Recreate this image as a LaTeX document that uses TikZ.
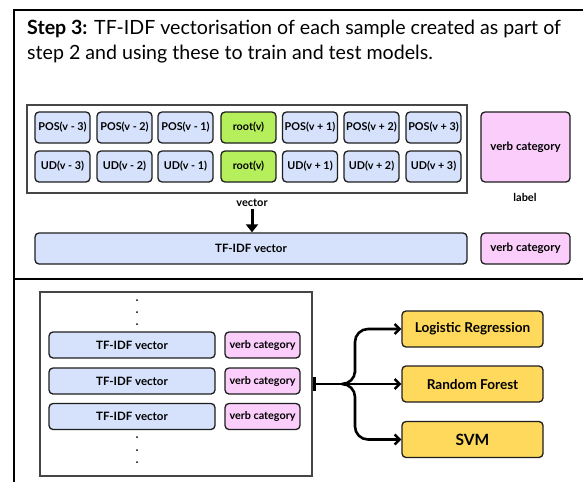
\documentclass[tikz,border=0pt]{standalone}
\usepackage{fontspec}
\setmainfont{Lato}
\usetikzlibrary{arrows.meta}
\definecolor{bluef}{RGB}{214,226,252}
\definecolor{greenf}{RGB}{181,240,92}
\definecolor{pinkf}{RGB}{250,205,250}
\definecolor{yellowf}{RGB}{255,217,92}
\definecolor{edge}{RGB}{30,30,30}
\definecolor{cont}{RGB}{70,70,70}
\tikzset{
  cell/.style={draw=edge, line width=1.3pt, rounded corners=4pt, align=center, inner sep=0pt, font=\bfseries\fontsize{10.8}{12}\selectfont},
  bcell/.style={cell, fill=bluef, minimum width=55pt, minimum height=31pt},
  gcell/.style={cell, fill=greenf, minimum width=55pt, minimum height=31pt},
  pcell/.style={cell, fill=pinkf},
  ycell/.style={cell, fill=yellowf, minimum width=141pt, minimum height=36pt, font=\bfseries\fontsize{13.6}{15}\selectfont},
  container/.style={draw=cont, line width=1.2pt},
  frameline/.style={draw=black, line width=1.6pt},
  plain/.style={font=\bfseries\fontsize{11}{12}\selectfont, inner sep=0pt},
  dotn/.style={circle, fill=black, inner sep=0pt, minimum size=2pt},
  flow/.style={line width=2.6pt, rounded corners=13pt, -{Straight Barb[length=5pt,width=10pt,line width=2.4pt]}}
}
\begin{document}
\begin{tikzpicture}[x=1pt,y=-1pt]
\useasboundingbox (0,0) rectangle (583,482);
\fill[white] (0,0) rectangle (583,482);
% outer frame
\draw[frameline] (14,482) -- (14,10) -- (583,10);
\draw[frameline] (14,279) -- (583,279);
% title
\node[anchor=base west, inner sep=0pt, font=\fontsize{19.6}{25}\selectfont] (t1) at (27,34) {\textbf{Step 3:} TF-IDF vectorisation of each sample created as part of};
\node[anchor=base west, inner sep=0pt, font=\fontsize{19.6}{25}\selectfont] (t2) at (27,59) {step 2 and using these to train and test models.};
% top container
\draw[container] (27,105) rectangle (467,193);
\node[bcell] (p1) at (62.5,127.5) {POS(v - 3)};
\node[bcell] (p2) at (124.5,127.5) {POS(v - 2)};
\node[bcell] (p3) at (185.5,127.5) {POS(v - 1)};
\node[gcell] (p4) at (248.5,127.5) {root(v)};
\node[bcell] (p5) at (310,127.5) {POS(v + 1)};
\node[bcell] (p6) at (371.5,127.5) {POS(v + 2)};
\node[bcell] (p7) at (433.5,127.5) {POS(v + 3)};
\node[bcell] (u1) at (62.5,166.5) {UD(v - 3)};
\node[bcell] (u2) at (124.5,166.5) {UD(v - 2)};
\node[bcell] (u3) at (185.5,166.5) {UD(v - 1)};
\node[gcell] (u4) at (248.5,166.5) {root(v)};
\node[bcell] (u5) at (310,166.5) {UD(v + 1)};
\node[bcell] (u6) at (371.5,166.5) {UD(v + 2)};
\node[bcell] (u7) at (433.5,166.5) {UD(v + 3)};
\node[pcell, minimum width=89pt, minimum height=70pt, font=\bfseries\fontsize{11.5}{13}\selectfont] (vbig) at (525.5,147) {verb category};
\node[plain] (lab) at (525,197) {label};
\node[plain] (vec) at (252,203) {vector};
\node[cell, fill=bluef, minimum width=432pt, minimum height=31pt, font=\bfseries\fontsize{11.5}{13}\selectfont] (tf) at (251,248.5) {TF-IDF vector};
\node[pcell, minimum width=89pt, minimum height=31pt, font=\bfseries\fontsize{11.5}{13}\selectfont] (vsm) at (525.5,248.5) {verb category};
\draw[line width=3pt, -{Triangle[length=8pt,width=12pt]}] (vec.south) ++(0,2) coordinate (va) (va) -- (tf.north -| va);
% bottom container
\draw[container] (40,292) rectangle (312,476);
\foreach \yy/\nm in {300/d1,312/d2,324/d3,437/d4,450/d5,462/d6}{\node[dotn] (\nm) at (137,\yy) {};}
\node[cell, fill=bluef, minimum width=166pt, minimum height=26pt, font=\bfseries\fontsize{11.5}{13}\selectfont] (r1) at (132,345) {TF-IDF vector};
\node[cell, fill=bluef, minimum width=166pt, minimum height=26pt, font=\bfseries\fontsize{11.5}{13}\selectfont] (r2) at (132,381) {TF-IDF vector};
\node[cell, fill=bluef, minimum width=166pt, minimum height=26pt, font=\bfseries\fontsize{11.5}{13}\selectfont] (r3) at (132,416.5) {TF-IDF vector};
\node[pcell, minimum width=75pt, minimum height=26pt, font=\bfseries\fontsize{10.8}{12}\selectfont] (c1) at (262.5,345) {verb category};
\node[pcell, minimum width=75pt, minimum height=26pt, font=\bfseries\fontsize{10.8}{12}\selectfont] (c2) at (262.5,381) {verb category};
\node[pcell, minimum width=75pt, minimum height=26pt, font=\bfseries\fontsize{10.8}{12}\selectfont] (c3) at (262.5,416.5) {verb category};
\node[ycell] (lr) at (472.5,329) {Logistic Regression};
\node[ycell] (rf) at (472.5,384) {Random Forest};
\node[ycell, font=\bfseries\fontsize{15.5}{17}\selectfont] (svm) at (472.5,439.5) {SVM};
\coordinate (src) at (313,384);
\coordinate (br) at (342,384);
\draw[line width=2.6pt, {Bar[width=14pt,line width=3pt]}-{Straight Barb[length=5pt,width=10pt,line width=2.4pt]}] (src) -- (rf.west);
\draw[flow] (br) -| (355,360) |- (lr.west);
\draw[flow] (br) -| (355,410) |- (svm.west);
\end{tikzpicture}
\end{document}
